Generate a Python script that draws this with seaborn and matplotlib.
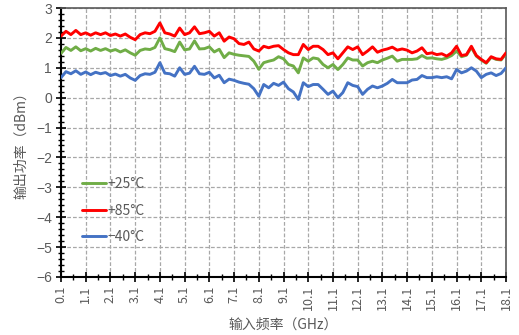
import numpy as np
import pandas as pd
import matplotlib
matplotlib.use("Agg")
import matplotlib.pyplot as plt
from matplotlib.ticker import MultipleLocator, FixedLocator
import seaborn as sns

# Input frequency sweep, GHz
freq_ghz = [round(0.1 + 0.2 * i, 1) for i in range(91)]

# Output power (dBm) at +25 °C
p_25 = [
    1.48, 1.68, 1.58, 1.70, 1.57, 1.64, 1.56, 1.65, 1.58, 1.64,
    1.56, 1.61, 1.53, 1.60, 1.50, 1.42, 1.58, 1.63, 1.61, 1.68,
    2.00, 1.64, 1.60, 1.54, 1.86, 1.60, 1.63, 1.90, 1.63, 1.64,
    1.70, 1.53, 1.62, 1.34, 1.50, 1.45, 1.42, 1.40, 1.38, 1.22,
    0.95, 1.17, 1.22, 1.26, 1.37, 1.30, 1.11, 1.06, 0.83, 1.33,
    1.22, 1.33, 1.30, 1.11, 1.00, 1.11, 0.94, 1.11, 1.33, 1.26,
    1.26, 1.06, 1.17, 1.22, 1.17, 1.26, 1.32, 1.39, 1.22, 1.28,
    1.28, 1.28, 1.30, 1.41, 1.32, 1.33, 1.30, 1.28, 1.33, 1.41,
    1.56, 1.37, 1.42, 1.68, 1.39, 1.26, 1.15, 1.35, 1.28, 1.26,
    1.47,
]

# Output power (dBm) at +85 °C
p_85 = [
    2.06, 2.22, 2.11, 2.25, 2.11, 2.17, 2.09, 2.17, 2.11, 2.17,
    2.08, 2.13, 2.06, 2.13, 2.02, 1.94, 2.11, 2.17, 2.14, 2.22,
    2.50, 2.17, 2.13, 2.06, 2.33, 2.11, 2.17, 2.37, 2.14, 2.17,
    2.22, 2.06, 2.17, 1.89, 2.03, 1.97, 1.81, 1.78, 1.86, 1.63,
    1.56, 1.72, 1.67, 1.72, 1.74, 1.61, 1.50, 1.44, 1.44, 1.78,
    1.61, 1.72, 1.72, 1.61, 1.44, 1.50, 1.30, 1.50, 1.70, 1.61,
    1.70, 1.44, 1.56, 1.70, 1.52, 1.59, 1.63, 1.69, 1.59, 1.63,
    1.59, 1.50, 1.56, 1.67, 1.47, 1.50, 1.44, 1.47, 1.39, 1.50,
    1.72, 1.41, 1.44, 1.72, 1.41, 1.28, 1.17, 1.37, 1.30, 1.28,
    1.50,
]

# Output power (dBm) at -40 °C
p_m40 = [
    0.67, 0.87, 0.80, 0.90, 0.78, 0.86, 0.77, 0.85, 0.80, 0.84,
    0.74, 0.79, 0.72, 0.78, 0.66, 0.58, 0.74, 0.80, 0.78, 0.85,
    1.17, 0.82, 0.80, 0.72, 1.00, 0.78, 0.82, 1.05, 0.80, 0.78,
    0.85, 0.66, 0.75, 0.50, 0.62, 0.58, 0.52, 0.48, 0.45, 0.30,
    0.05, 0.44, 0.33, 0.48, 0.41, 0.52, 0.30, 0.19, -0.06, 0.50,
    0.37, 0.44, 0.44, 0.28, 0.11, 0.22, 0.00, 0.17, 0.50, 0.41,
    0.37, 0.11, 0.28, 0.39, 0.33, 0.39, 0.48, 0.61, 0.50, 0.50,
    0.50, 0.59, 0.61, 0.74, 0.67, 0.67, 0.70, 0.67, 0.70, 0.63,
    0.94, 0.83, 0.89, 1.00, 0.89, 0.67, 0.78, 0.83, 0.74, 0.81,
    1.00,
]

series_labels = ["+25°C", "+85°C", "−40°C"]
series_colors = ["#70AD47", "#FF0000", "#4472C4"]
x_ticks = [round(0.1 + i, 1) for i in range(19)]
y_ticks = list(range(-6, 4))

df = pd.concat([
    pd.DataFrame({"freq": freq_ghz, "power": p, "temp": lab})
    for p, lab in zip([p_25, p_85, p_m40], series_labels)
], ignore_index=True)

sns.set_theme(style="white")
plt.rcParams["font.family"] = ["Noto Sans CJK SC", "DejaVu Sans"]
plt.rcParams["axes.unicode_minus"] = True

TXT = "#595959"
GRID = "#A8A8A8"

fig = plt.figure(figsize=(5.19, 3.35), dpi=100)
ax = fig.add_axes([61 / 519, 1 - 277 / 335, 445 / 519, 269 / 335])

sns.lineplot(data=df, x="freq", y="power", hue="temp",
             hue_order=series_labels, palette=series_colors,
             linewidth=2.1, ax=ax, zorder=3)

ax.set_xlim(0.1, 18.1)
ax.set_ylim(-6, 3)
ax.xaxis.set_major_locator(FixedLocator(x_ticks))
ax.xaxis.set_minor_locator(FixedLocator([t + 0.5 for t in x_ticks[:-1]]))
ax.yaxis.set_major_locator(FixedLocator(y_ticks))
ax.yaxis.set_minor_locator(MultipleLocator(0.2))
ax.set_xticklabels([f"{t:.1f}" for t in x_ticks], rotation=90,
                   fontsize=9, color=TXT)
ax.set_yticklabels([f"{v}".replace("-", "−") for v in y_ticks],
                   fontsize=10, color=TXT, family=["Liberation Sans"])

ax.tick_params(axis="both", which="major", direction="inout", length=7,
               width=1.2, color="black", pad=3, bottom=True, left=True)
ax.tick_params(axis="both", which="minor", direction="inout", length=4,
               width=1.0, color="black", bottom=True, left=True)

# dashed major grid on both axes
ax.grid(True, which="major", axis="both", color=GRID,
        linestyle=(0, (3, 1.6)), linewidth=0.9)

for side in ("left", "bottom"):
    ax.spines[side].set_color("black")
    ax.spines[side].set_linewidth(1.5)
for side in ("top", "right"):
    ax.spines[side].set_color("#595959")
    ax.spines[side].set_linewidth(1.2)

ax.set_xlabel("输入频率（GHz）", fontsize=10, color=TXT, labelpad=5)
ax.set_ylabel("输出功率（dBm）", fontsize=10, color=TXT, labelpad=6)

leg = ax.legend(loc="upper left", bbox_to_anchor=(0.035, 0.392),
                frameon=False, fontsize=10, handlelength=1.7,
                handletextpad=0.1, labelspacing=0.9, borderaxespad=0)
for t in leg.get_texts():
    t.set_color(TXT)
for h in leg.get_lines():
    h.set_linewidth(2.1)

fig.savefig("out.png", dpi=100)
